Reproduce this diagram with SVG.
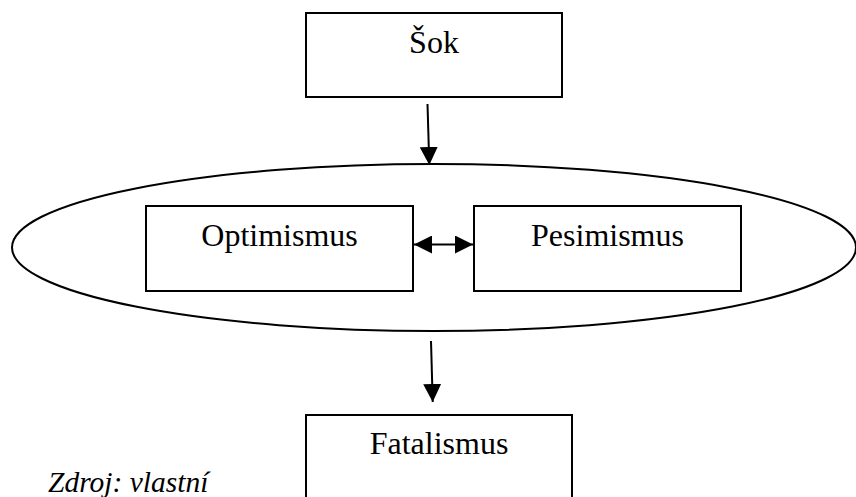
<svg xmlns="http://www.w3.org/2000/svg" width="856" height="497" viewBox="0 0 856 497">
<defs>
<marker id="ah" markerUnits="userSpaceOnUse" markerWidth="18" markerHeight="18" viewBox="0 0 16 16" refX="16" refY="8" orient="auto-start-reverse">
<path d="M0,0 L16,8 L0,16 Z" fill="#000"/>
</marker>
<style>
.box{fill:#fff;stroke:#000;stroke-width:2}
.lbl{font-family:"Liberation Serif","Times New Roman",serif;font-size:32px;fill:#000;text-anchor:middle}
.con{stroke:#000;stroke-width:2;fill:none}
</style>
</defs>
<rect width="856" height="497" fill="#fff"/>
<g id="sok">
<rect class="box" x="306" y="13" width="256" height="84"/>
<text class="lbl" x="434" y="53">Šok</text>
</g>
<g id="group-ellipse">
<ellipse cx="434" cy="247.5" rx="422" ry="83.5" fill="none" stroke="#000" stroke-width="2"/>
</g>
<g id="optimismus">
<rect class="box" x="146" y="206" width="267" height="85"/>
<text class="lbl" x="279.5" y="246">Optimismus</text>
</g>
<g id="pesimismus">
<rect class="box" x="474" y="206" width="267" height="85"/>
<text class="lbl" x="607.5" y="246">Pesimismus</text>
</g>
<g id="fatalismus">
<rect class="box" x="306" y="415" width="266" height="100"/>
<text class="lbl" x="439" y="454">Fatalismus</text>
</g>
<g id="connectors">
<line class="con" x1="427.5" y1="104" x2="429.3" y2="165" marker-end="url(#ah)"/>
<line class="con" x1="414" y1="244.5" x2="473" y2="244.5" marker-start="url(#ah)" marker-end="url(#ah)"/>
<line class="con" x1="431" y1="341" x2="432.7" y2="402" marker-end="url(#ah)"/>
</g>
<text x="48" y="492" font-family="Liberation Serif, Times New Roman, serif" font-size="29.5" font-style="italic" fill="#000">Zdroj: vlastní</text>
</svg>
